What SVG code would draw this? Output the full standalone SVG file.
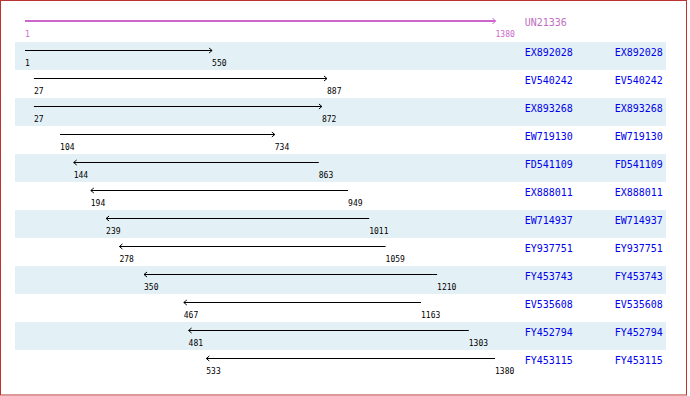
<svg xmlns="http://www.w3.org/2000/svg" width="690" height="396" viewBox="0 0 690 396">
<style>
.band{fill:#e3f0f5}
.ln{stroke:#000;stroke-width:1;fill:none}
.num{font-family:"DejaVu Sans Mono","Liberation Mono",monospace;font-size:8px;fill:#000}
.nm{font-family:"DejaVu Sans Mono","Liberation Mono",monospace;font-size:10px;fill:#0000ee}
</style>
<defs>
<marker id="ah" markerUnits="userSpaceOnUse" markerWidth="8" markerHeight="8" refX="0" refY="0" viewBox="-5 -4 6 8" orient="auto" overflow="visible">
<path d="M-3,-2.5 L0,0 L-3,2.5" stroke="#000" stroke-width="1" fill="none"/>
</marker>
<marker id="ahm" markerUnits="userSpaceOnUse" markerWidth="8" markerHeight="8" refX="0" refY="0" viewBox="-5 -4 6 8" orient="auto" overflow="visible">
<path d="M-3,-3 L0,0 L-3,3" stroke="#cc66cc" stroke-width="1" fill="none"/>
</marker>
</defs>
<rect x="0.5" y="0.5" width="686" height="394.5" fill="#fff" stroke="#bb3333" stroke-width="1"/>
<g id="bands">
<rect class="band" x="15" y="42" width="651" height="28"/>
<rect class="band" x="15" y="98" width="651" height="28"/>
<rect class="band" x="15" y="154" width="651" height="28"/>
<rect class="band" x="15" y="210" width="651" height="28"/>
<rect class="band" x="15" y="266" width="651" height="28"/>
<rect class="band" x="15" y="322" width="651" height="28"/>
</g>
<g id="ref">
<line x1="25" y1="21" x2="495.5" y2="21" stroke="#cc66cc" stroke-width="2" marker-end="url(#ahm)"/>
<text x="25" y="36.5" font-family="DejaVu Sans Mono,monospace" font-size="8" fill="#cc66cc">1</text>
<text x="495.5" y="36.5" font-family="DejaVu Sans Mono,monospace" font-size="8" fill="#cc66cc">1380</text>
<text x="524.7" y="26" font-family="DejaVu Sans Mono,monospace" font-size="10" fill="#c070c0">UN21336</text>
</g>
<g id="connectors">
<line class="ln" x1="25" y1="50.5" x2="212.1" y2="50.5" marker-end="url(#ah)"/>
<line class="ln" x1="33.9" y1="78.5" x2="327" y2="78.5" marker-end="url(#ah)"/>
<line class="ln" x1="33.9" y1="106.5" x2="321.9" y2="106.5" marker-end="url(#ah)"/>
<line class="ln" x1="60.1" y1="134.5" x2="274.8" y2="134.5" marker-end="url(#ah)"/>
<line class="ln" x1="318.8" y1="162.5" x2="73.7" y2="162.5" marker-end="url(#ah)"/>
<line class="ln" x1="348.1" y1="190.5" x2="90.8" y2="190.5" marker-end="url(#ah)"/>
<line class="ln" x1="369.2" y1="218.5" x2="106.1" y2="218.5" marker-end="url(#ah)"/>
<line class="ln" x1="385.6" y1="246.5" x2="119.4" y2="246.5" marker-end="url(#ah)"/>
<line class="ln" x1="437.1" y1="274.5" x2="144" y2="274.5" marker-end="url(#ah)"/>
<line class="ln" x1="421" y1="302.5" x2="183.8" y2="302.5" marker-end="url(#ah)"/>
<line class="ln" x1="468.8" y1="330.5" x2="188.6" y2="330.5" marker-end="url(#ah)"/>
<line class="ln" x1="495" y1="358.5" x2="206.3" y2="358.5" marker-end="url(#ah)"/>
</g>
<g id="EX892028"><text class="num" x="25" y="66">1</text><text class="num" x="212.1" y="66">550</text><text class="nm" x="524.7" y="56">EX892028</text><text class="nm" x="614.7" y="56">EX892028</text></g>
<g id="EV540242"><text class="num" x="33.9" y="94">27</text><text class="num" x="327" y="94">887</text><text class="nm" x="524.7" y="84">EV540242</text><text class="nm" x="614.7" y="84">EV540242</text></g>
<g id="EX893268"><text class="num" x="33.9" y="122">27</text><text class="num" x="321.9" y="122">872</text><text class="nm" x="524.7" y="112">EX893268</text><text class="nm" x="614.7" y="112">EX893268</text></g>
<g id="EW719130"><text class="num" x="60.1" y="150">104</text><text class="num" x="274.8" y="150">734</text><text class="nm" x="524.7" y="140">EW719130</text><text class="nm" x="614.7" y="140">EW719130</text></g>
<g id="FD541109"><text class="num" x="73.7" y="178">144</text><text class="num" x="318.8" y="178">863</text><text class="nm" x="524.7" y="168">FD541109</text><text class="nm" x="614.7" y="168">FD541109</text></g>
<g id="EX888011"><text class="num" x="90.8" y="206">194</text><text class="num" x="348.1" y="206">949</text><text class="nm" x="524.7" y="196">EX888011</text><text class="nm" x="614.7" y="196">EX888011</text></g>
<g id="EW714937"><text class="num" x="106.1" y="234">239</text><text class="num" x="369.2" y="234">1011</text><text class="nm" x="524.7" y="224">EW714937</text><text class="nm" x="614.7" y="224">EW714937</text></g>
<g id="EY937751"><text class="num" x="119.4" y="262">278</text><text class="num" x="385.6" y="262">1059</text><text class="nm" x="524.7" y="252">EY937751</text><text class="nm" x="614.7" y="252">EY937751</text></g>
<g id="FY453743"><text class="num" x="144" y="290">350</text><text class="num" x="437.1" y="290">1210</text><text class="nm" x="524.7" y="280">FY453743</text><text class="nm" x="614.7" y="280">FY453743</text></g>
<g id="EV535608"><text class="num" x="183.8" y="318">467</text><text class="num" x="421" y="318">1163</text><text class="nm" x="524.7" y="308">EV535608</text><text class="nm" x="614.7" y="308">EV535608</text></g>
<g id="FY452794"><text class="num" x="188.6" y="346">481</text><text class="num" x="468.8" y="346">1303</text><text class="nm" x="524.7" y="336">FY452794</text><text class="nm" x="614.7" y="336">FY452794</text></g>
<g id="FY453115"><text class="num" x="206.3" y="374">533</text><text class="num" x="495" y="374">1380</text><text class="nm" x="524.7" y="364">FY453115</text><text class="nm" x="614.7" y="364">FY453115</text></g>
</svg>
